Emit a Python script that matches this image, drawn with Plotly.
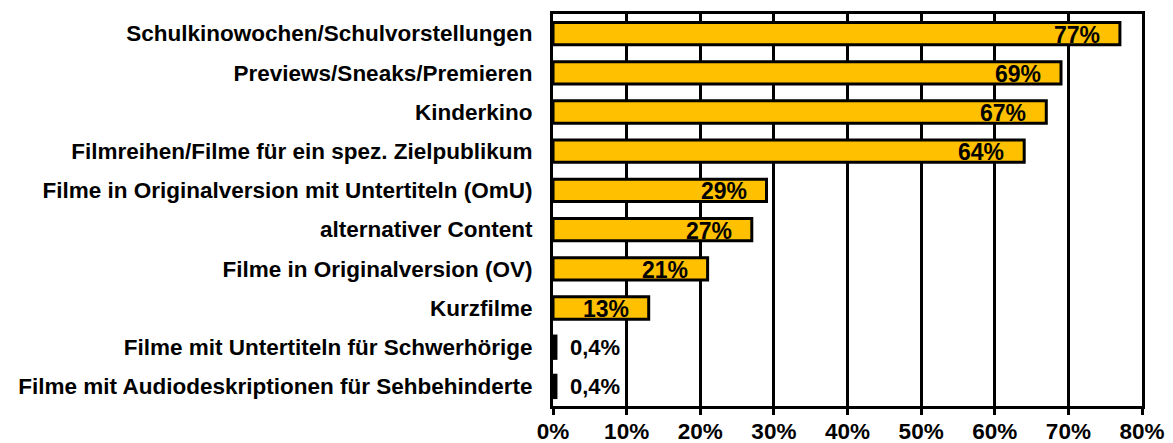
import plotly.graph_objects as go

categories = [
    "Schulkinowochen/Schulvorstellungen",
    "Previews/Sneaks/Premieren",
    "Kinderkino",
    "Filmreihen/Filme für ein spez. Zielpublikum",
    "Filme in Originalversion mit Untertiteln (OmU)",
    "alternativer Content",
    "Filme in Originalversion (OV)",
    "Kurzfilme",
    "Filme mit Untertiteln für Schwerhörige",
    "Filme mit Audiodeskriptionen für Sehbehinderte",
]
values = [77, 69, 67, 64, 29, 27, 21, 13, 0.4, 0.4]
value_labels = ["77%", "69%", "67%", "64%", "29%", "27%", "21%", "13%", "0,4%", "0,4%"]
tick_vals = [0, 10, 20, 30, 40, 50, 60, 70, 80]
tick_text = ["0%", "10%", "20%", "30%", "40%", "50%", "60%", "70%", "80%"]

FONT = "Liberation Sans, Arial, sans-serif"

fig = go.Figure()
fig.add_trace(go.Bar(
    x=values, y=categories, orientation="h",
    marker=dict(color="#FFC000", line=dict(color="black", width=3)),
    hoverinfo="skip",
))

for v, c, t in zip(values, categories, value_labels):
    if v >= 5:
        fig.add_annotation(x=v, y=c, xref="x", yref="y", text=f"<b>{t}</b>",
                           showarrow=False, xanchor="right", yanchor="middle",
                           xshift=-18, yshift=-1,
                           font=dict(family=FONT, size=23, color="black"))
    else:
        fig.add_annotation(x=v, y=c, xref="x", yref="y", text=f"<b>{t}</b>",
                           showarrow=False, xanchor="left", yanchor="middle",
                           xshift=12, yshift=0,
                           font=dict(family=FONT, size=22, color="black"))

fig.update_layout(
    width=1173, height=443,
    margin=dict(l=545, r=39, t=3, b=45),
    plot_bgcolor="white", paper_bgcolor="white",
    bargap=0.43,
    showlegend=False,
    font=dict(family=FONT, color="black"),
)
fig.update_xaxes(
    range=[0, 80], tickvals=tick_vals, ticktext=[f"<b>{t}</b>" for t in tick_text],
    showgrid=True, gridcolor="black", gridwidth=3,
    showline=True, linecolor="black", linewidth=3, mirror=True,
    ticks="outside", ticklen=6, tickwidth=3, tickcolor="black",
    ticklabelstandoff=-3,
    tickfont=dict(family=FONT, size=22.5, color="black"),
    zeroline=False,
)
fig.update_yaxes(
    categoryorder="array", categoryarray=categories[::-1],
    showline=True, linecolor="black", linewidth=3, mirror=True,
    ticks="", ticklabelstandoff=13,
    ticktext=[f"<b>{c}</b>" for c in categories], tickvals=categories,
    tickfont=dict(family=FONT, size=22.5, color="black"),
)

fig.write_html("out.html")
